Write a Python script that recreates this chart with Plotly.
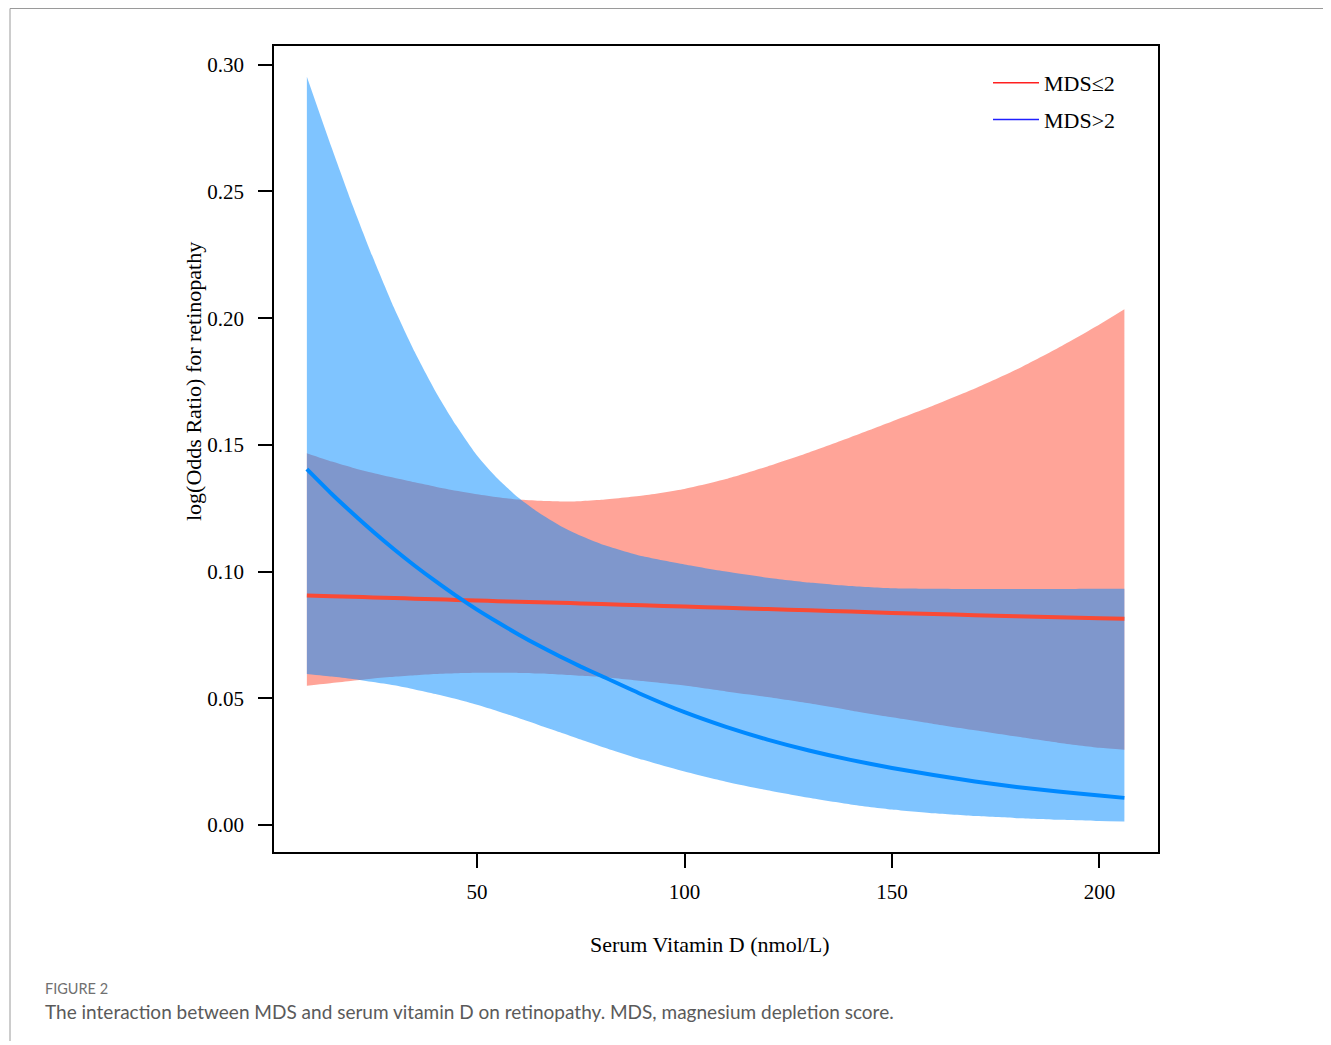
import plotly.graph_objects as go

# ---- data ----
vitd = [9, 15, 20, 25, 30, 35, 40, 45, 50, 55, 60, 65, 70, 75, 80, 90, 100,
        110, 120, 130, 140, 150, 160, 170, 180, 190, 200, 206]

low_fit = [0.0906, 0.0903, 0.0901, 0.0898, 0.0896, 0.0893, 0.0891, 0.0888, 0.0886,
           0.0883, 0.0881, 0.0879, 0.0877, 0.0874, 0.0872, 0.0867, 0.0862, 0.0857,
           0.0852, 0.0847, 0.0842, 0.0837, 0.0833, 0.0828, 0.0824, 0.0820, 0.0816, 0.0814]
low_lo = [0.0549, 0.0560, 0.0569, 0.0578, 0.0585, 0.0591, 0.0596, 0.0599, 0.0601,
          0.0601, 0.0600, 0.0598, 0.0594, 0.0589, 0.0584, 0.0568, 0.0550, 0.0527,
          0.0505, 0.0480, 0.0452, 0.0425, 0.0399, 0.0374, 0.0349, 0.0325, 0.0305, 0.0297]
low_hi = [0.1467, 0.1434, 0.1410, 0.1389, 0.1370, 0.1352, 0.1335, 0.1319, 0.1305,
          0.1293, 0.1284, 0.1279, 0.1277, 0.1278, 0.1283, 0.1300, 0.1326, 0.1365,
          0.1415, 0.1470, 0.1530, 0.1592, 0.1655, 0.1722, 0.1797, 0.1882, 0.1975, 0.2035]

high_fit = [0.1404, 0.1306, 0.1230, 0.1157, 0.1088, 0.1023, 0.0962, 0.0904, 0.0850,
            0.0800, 0.0752, 0.0707, 0.0665, 0.0625, 0.0588, 0.0513, 0.0445, 0.0387,
            0.0337, 0.0294, 0.0257, 0.0225, 0.0197, 0.0172, 0.0150, 0.0132, 0.0116, 0.0107]
high_lo = [0.0596, 0.0586, 0.0576, 0.0564, 0.0551, 0.0535, 0.0517, 0.0497, 0.0474,
           0.0449, 0.0422, 0.0394, 0.0366, 0.0337, 0.0309, 0.0257, 0.0211, 0.0171,
           0.0137, 0.0107, 0.0081, 0.0061, 0.0046, 0.0035, 0.0027, 0.0021, 0.0016, 0.0014]
high_hi = [0.2953, 0.2671, 0.2446, 0.2236, 0.2041, 0.1866, 0.1711, 0.1576, 0.1458,
           0.1366, 0.1291, 0.1231, 0.1181, 0.1141, 0.1108, 0.1060, 0.1028, 0.1000,
           0.0976, 0.0957, 0.0943, 0.0934, 0.0932, 0.0931, 0.0931, 0.0931, 0.0932, 0.0932]

y_ticks = [0.00, 0.05, 0.10, 0.15, 0.20, 0.25, 0.30]
x_ticks = [50, 100, 150, 200]
legend_names = ["MDS≤2", "MDS>2"]

# ---- figure ----
SERIF = "Liberation Serif, Times New Roman, serif"
OFF = 8                      # page body margin offset
W, H = 1331 - OFF, 1045 - OFF
L, R, T, B = 274 - OFF, 1158 - OFF, 46 - OFF, 852 - OFF
pw, ph = R - L, B - T


def px(x):  # reference page x -> paper
    return (x - OFF - L) / pw


def py(y):  # reference page y -> paper
    return (B - (y - OFF)) / ph


fig = go.Figure()
shape = dict(shape="spline", smoothing=0.6)

# red band (MDS<=2)
fig.add_trace(go.Scatter(x=vitd, y=low_lo, mode="lines", line=dict(width=0, **shape),
                         showlegend=False, hoverinfo="skip"))
fig.add_trace(go.Scatter(x=vitd, y=low_hi, mode="lines", line=dict(width=0, **shape),
                         fill="tonexty", fillcolor="rgba(255,73,49,0.5)",
                         showlegend=False, hoverinfo="skip"))
# blue band (MDS>2)
fig.add_trace(go.Scatter(x=vitd, y=high_lo, mode="lines", line=dict(width=0, **shape),
                         showlegend=False, hoverinfo="skip"))
fig.add_trace(go.Scatter(x=vitd, y=high_hi, mode="lines", line=dict(width=0, **shape),
                         fill="tonexty", fillcolor="rgba(0,137,255,0.5)",
                         showlegend=False, hoverinfo="skip"))
# fitted lines
fig.add_trace(go.Scatter(x=vitd, y=low_fit, mode="lines",
                         line=dict(color="#F94A34", width=4, **shape), showlegend=False))
fig.add_trace(go.Scatter(x=vitd, y=high_fit, mode="lines",
                         line=dict(color="#0089FF", width=4, **shape), showlegend=False))
# legend entries
fig.add_trace(go.Scatter(x=[None], y=[None], mode="lines", name=legend_names[0],
                         line=dict(color="#FF2020", width=1.5), legendgroup="a"))
fig.add_trace(go.Scatter(x=[None], y=[None], mode="lines", name=legend_names[1],
                         line=dict(color="#2020FF", width=1.5), legendgroup="b"))

axis_common = dict(showline=True, mirror=True, linecolor="black", linewidth=1.5,
                   ticks="outside", ticklen=14, tickwidth=1.5, tickcolor="black",
                   showgrid=False, zeroline=False,
                   tickfont=dict(family=SERIF, size=21, color="black"))

fig.update_xaxes(range=[1.08, 214.1], tickvals=x_ticks, ticklabelstandoff=6, **axis_common)
fig.update_yaxes(range=[-0.01066, 0.3074], tickvals=y_ticks, tickformat=".2f",
                 ticklabelstandoff=10, **axis_common)

annotations = [
    dict(text="Serum Vitamin D (nmol/L)", x=px(710), y=py(944), xref="paper", yref="paper",
         showarrow=False, font=dict(family=SERIF, size=22, color="black"),
         xanchor="center", yanchor="middle"),
    dict(text="log(Odds Ratio) for retinopathy", x=px(193), y=py(382), xref="paper",
         yref="paper", showarrow=False, textangle=-90,
         font=dict(family=SERIF, size=22, color="black"), xanchor="center", yanchor="middle"),
    dict(text="FIGURE 2", x=px(43), y=py(988), xref="paper", yref="paper", showarrow=False,
         font=dict(family="Lato, Open Sans, sans-serif", size=14.5, color="#707070"),
         xanchor="left", yanchor="middle"),
    dict(text="The interaction between MDS and serum vitamin D on retinopathy. MDS, magnesium depletion score.",
         x=px(43), y=py(1011), xref="paper", yref="paper", showarrow=False,
         font=dict(family="Lato, Open Sans, sans-serif", size=19, color="#5a5a5a"),
         xanchor="left", yanchor="middle"),
]

shapes = [
    dict(type="line", xref="paper", yref="paper", x0=px(10), x1=px(1331), y0=py(8.5), y1=py(8.5),
         line=dict(color="#9a9a9a", width=1)),
    dict(type="line", xref="paper", yref="paper", x0=px(10), x1=px(10), y0=py(8.5), y1=py(1041),
         line=dict(color="#9a9a9a", width=1)),
]

fig.update_layout(
    width=W, height=H,
    margin=dict(l=L, r=W - R, t=T, b=H - B, pad=0),
    paper_bgcolor="white", plot_bgcolor="white",
    annotations=annotations, shapes=shapes,
    legend=dict(x=px(988), y=py(62), xanchor="left", yanchor="top",
                font=dict(family=SERIF, size=22, color="black"),
                bgcolor="rgba(0,0,0,0)", tracegroupgap=5, itemwidth=46),
    showlegend=True,
)

fig.write_html("out.html")
